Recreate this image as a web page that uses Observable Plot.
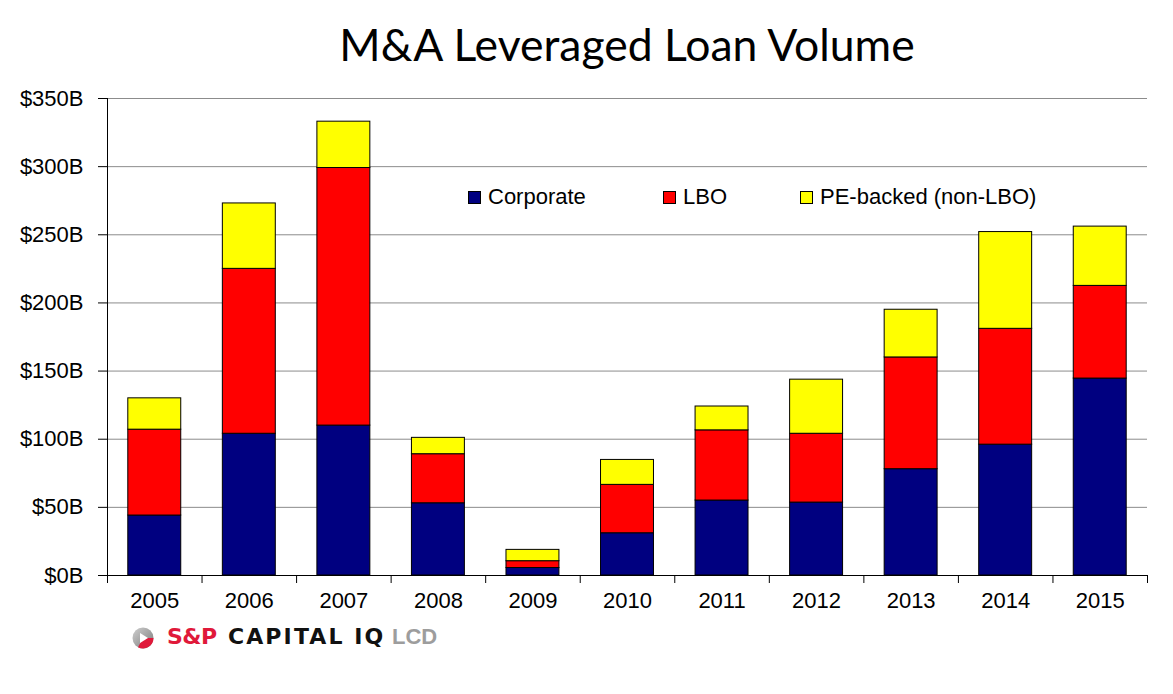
<!DOCTYPE html>
<html>
<head>
<meta charset="utf-8">
<script src="https://cdn.jsdelivr.net/npm/d3@7"></script>
<script src="https://cdn.jsdelivr.net/npm/@observablehq/plot@0.6"></script>
<style>
  html, body { margin: 0; padding: 0; background: #fff; }
  #wrap { position: relative; width: 1173px; height: 694px; overflow: hidden; }
  #title { position: absolute; left: 0; width: 1254px; top: 14px; text-align: center;
    font-family: "Lato", "Open Sans", sans-serif; font-size: 44.5px; color: #000; line-height: 60px; }
  #chart { position: absolute; left: 0; top: 80px; }
  .leg { position: absolute; top: 184px; font-family: "Liberation Sans", Arial, sans-serif; font-size: 22px;
    color: #000; display: flex; align-items: center; line-height: 26px; white-space: nowrap; }
  .sw { width: 11px; height: 11px; border: 1px solid #000; margin-right: 7px; }
  #logo { position: absolute; left: 0; top: 624px; width: 600px; height: 30px;
    font-family: "DejaVu Sans", "Liberation Sans", sans-serif; font-weight: 700; font-size: 22px; }
  #logo span { position: absolute; top: 0px; line-height: 26px; white-space: nowrap; }
</style>
</head>
<body>
<div id="wrap">
  <div id="title">M&amp;A Leveraged Loan Volume</div>
  <div id="chart"></div>
  <div id="legend"></div>
  <div id="logo">
    <svg width="22" height="22" viewBox="0 0 22 22" style="position:absolute; left:132px; top:3px">
      <defs><linearGradient id="g" x1="0" x2="1" y1="0" y2="1"><stop offset="0" stop-color="#cfcfcf"/><stop offset="1" stop-color="#7a7a7a"/></linearGradient></defs>
      <circle cx="11" cy="11" r="10.5" fill="url(#g)"/>
      <path d="M11 11 L21.5 11 A10.5 10.5 0 0 1 6 20.3 Z" fill="#e0193a"/>
      <path d="M8 6 L16 11 L8 16 Z" fill="#fff"/>
    </svg>
    <span style="left:167px; color:#e0193a; letter-spacing:-0.5px">S&amp;P</span>
    <span style="left:228px; color:#111; letter-spacing:2.1px">CAPITAL IQ</span>
    <span style="left:392px; color:#9d9d9d; letter-spacing:0px; font-family:'Liberation Sans', Arial, sans-serif; font-size:22px">LCD</span>
  </div>
</div>
<script>
// ---- data ----
const years = ["2005","2006","2007","2008","2009","2010","2011","2012","2013","2014","2015"];
const seriesNames = ["Corporate", "LBO", "PE-backed (non-LBO)"];
const corporate = [44, 104, 110, 53, 5.5, 31, 55, 53.5, 78, 96, 144.5];
const lbo       = [63, 121, 189, 36, 5, 35.5, 51.5, 50.5, 82, 85, 68];
const peBacked  = [23, 48, 34, 12, 8.3, 18.3, 17.5, 39.7, 35, 71, 43.5];
const yTicks = [0, 50, 100, 150, 200, 250, 300, 350];
const colors = ["#000080", "#ff0000", "#ffff00"];

const rows = [];
years.forEach((yr, i) => {
  rows.push({year: yr, series: seriesNames[0], value: corporate[i]});
  rows.push({year: yr, series: seriesNames[1], value: lbo[i]});
  rows.push({year: yr, series: seriesNames[2], value: peBacked[i]});
});

const W = 1173, H = 540, mL = 107, mR = 26, mT = 18, mB = 45;
const step = (W - mL - mR) / years.length;

const chart = Plot.plot({
  width: W, height: H,
  marginLeft: mL, marginRight: mR, marginTop: mT, marginBottom: mB,
  style: {fontFamily: "'Liberation Sans', Arial, sans-serif", fontSize: "22px", color: "#000", background: "#fff"},
  x: {domain: years, paddingInner: 0.44, paddingOuter: 0.22, round: false, tickSize: 0, tickPadding: 17, label: null},
  y: {domain: [0, 350], ticks: yTicks, tickFormat: d => `$${d}B`, tickSize: 9, tickPadding: 15, label: null},
  color: {domain: seriesNames, range: colors},
  marks: [
    Plot.ruleY(yTicks.slice(1), {y: d => d, stroke: "#8c8c8c", strokeWidth: 1}),
    Plot.barY(rows, Plot.stackY({x: "year", y: "value", fill: "series", stroke: "#000", strokeWidth: 1, order: seriesNames})),
    Plot.ruleY([0], {stroke: "#000", strokeWidth: 1}),
    Plot.ruleX([years[0]], {x: d => d, dx: -step / 2, y1: 0, y2: 350, stroke: "#000"}),
    Plot.ruleX(years, {x: d => d, dx: -step / 2, y1: 0, y2: 0, insetBottom: -8, stroke: "#000"}),
    Plot.ruleX([years[years.length - 1]], {x: d => d, dx: step / 2, y1: 0, y2: 0, insetBottom: -8, stroke: "#000"})
  ]
});
document.getElementById("chart").appendChild(chart);

// ---- legend ----
const legPos = [468, 663, 800];
const legend = document.getElementById("legend");
seriesNames.forEach((name, i) => {
  const d = document.createElement("div");
  d.className = "leg";
  d.style.left = legPos[i] + "px";
  d.innerHTML = `<div class="sw" style="background:${colors[i]}"></div><span>${name}</span>`;
  legend.appendChild(d);
});
</script>
</body>
</html>
